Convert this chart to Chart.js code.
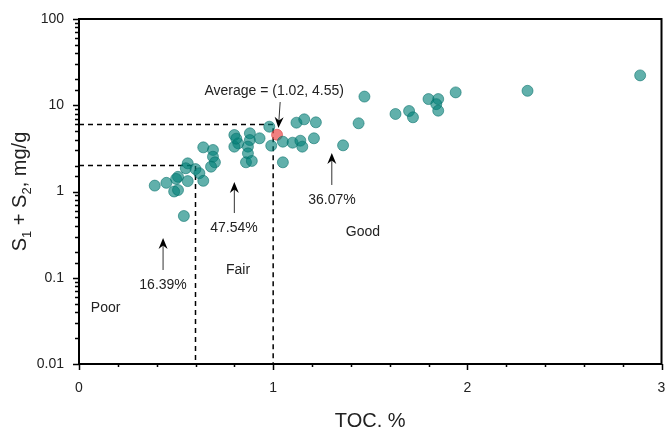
<!DOCTYPE html>
<html>
<head>
<meta charset="utf-8">
<script src="https://cdn.jsdelivr.net/npm/chart.js@4"></script>
<style>
  body { margin: 0; background: #fff; }
  canvas { display: block; }
</style>
</head>
<body>
<canvas id="myChart" width="668" height="430"></canvas>
<script>
// TOC (%) and S1 + S2 (mg/g) for each sample
const toc = [0.39, 0.45, 0.49, 0.51, 0.51, 0.50, 0.56, 0.55, 0.56, 0.60, 0.62, 0.64, 0.54, 0.64, 0.69, 0.69, 0.70, 0.68,
  0.80, 0.82, 0.80, 0.88, 0.88, 0.87, 0.87, 0.86, 0.89, 0.93, 0.98, 0.99, 1.05, 1.05, 1.12, 1.16, 1.22, 1.10, 1.14, 1.15,
  1.21, 1.36, 1.44, 1.47, 1.63, 1.70, 1.72, 1.80, 1.85, 1.84, 1.85, 1.94, 2.31, 2.89, 0.81];
const s1s2 = [1.17, 1.26, 1.00, 1.04, 1.48, 1.40, 2.12, 1.86, 1.32, 1.82, 1.63, 1.33, 0.52, 3.25, 3.03, 2.53, 2.18, 1.94,
  4.52, 3.62, 3.31, 4.73, 3.95, 3.31, 2.77, 2.18, 2.26, 4.14, 5.64, 3.40, 3.78, 2.18, 6.28, 6.87, 6.34, 3.68, 3.88, 3.31,
  4.14, 3.43, 6.18, 12.6, 7.92, 8.58, 7.25, 11.8, 11.8, 10.3, 8.65, 14.1, 14.7, 22.2, 4.10];

// average of all samples
const average = [1.02, 4.55];

// class limits: poor/fair and fair/good
const limitToc = [0.6, 1];
const limitS1s2 = [2, 6];

const xTickLabels = ['0', '1', '2', '3'];
const yTickValues = [0.01, 0.1, 1, 10, 100];
const yTickLabels = ['0.01', '0.1', '1', '10', '100'];

// class names and percentages, placed in data units
const classLabels = [
  { text: 'Poor', x: 0.137, y: 0.044 },
  { text: 'Fair', x: 0.819, y: 0.121 },
  { text: 'Good', x: 1.462, y: 0.339 },
  { text: '16.39%', x: 0.433, y: 0.0824 },
  { text: '47.54%', x: 0.798, y: 0.377 },
  { text: '36.07%', x: 1.303, y: 0.797 },
  { text: 'Average = (1.02, 4.55)', x: 1.005, y: 14.6 }
];
// arrows: from -> to
const arrows = [
  { x1: 0.433, y1: 0.123, x2: 0.433, y2: 0.289 },
  { x1: 0.800, y1: 0.563, x2: 0.800, y2: 1.29 },
  { x1: 1.302, y1: 1.19, x2: 1.302, y2: 2.79 },
  { x1: 1.036, y1: 10.9, x2: 1.027, y2: 5.45 }
];

const FONT = '"Liberation Sans", Arial, sans-serif';

const drawArrow = (ctx, x1, y1, x2, y2) => {
  const a = Math.atan2(y2 - y1, x2 - x1);
  const c = Math.cos(a), s = Math.sin(a);
  ctx.beginPath();
  ctx.moveTo(x1, y1);
  ctx.lineTo(x2 - 6 * c, y2 - 6 * s);
  ctx.stroke();
  ctx.beginPath();
  ctx.moveTo(x2, y2);
  ctx.lineTo(x2 - 11 * c + 4.5 * s, y2 - 11 * s - 4.5 * c);
  ctx.lineTo(x2 - 7.5 * c, y2 - 7.5 * s);
  ctx.lineTo(x2 - 11 * c - 4.5 * s, y2 - 11 * s + 4.5 * c);
  ctx.closePath();
  ctx.fill();
};

const isMajorY = v => yTickValues.findIndex(t => Math.abs(Math.log10(v) - Math.log10(t)) < 1e-6);

// drop the extra room chart.js keeps for the outer tick labels
const noEdgePadding = s => {
  s.paddingLeft = 0;
  s.paddingRight = 0;
  s.paddingTop = 0;
  s.paddingBottom = 0;
};

const extras = {
  id: 'extras',
  beforeDatasetsDraw(chart) {
    const { ctx, scales: { x, y } } = chart;
    ctx.save();
    ctx.strokeStyle = '#000';
    ctx.lineWidth = 1.5;
    ctx.setLineDash([5, 4]);
    for (let i = 0; i < limitToc.length; i++) {
      const px = x.getPixelForValue(limitToc[i]);
      const py = y.getPixelForValue(limitS1s2[i]);
      ctx.beginPath();
      ctx.moveTo(x.left, py);
      ctx.lineTo(px, py);
      ctx.lineTo(px, y.bottom);
      ctx.stroke();
    }
    ctx.restore();
  },
  afterDraw(chart) {
    const { ctx, chartArea: ca, scales: { x, y } } = chart;
    ctx.save();

    // frame
    ctx.strokeStyle = '#000';
    ctx.lineWidth = 2;
    ctx.strokeRect(ca.left, ca.top, ca.right - ca.left, ca.bottom - ca.top);

    // tick marks
    ctx.lineWidth = 1.5;
    ctx.beginPath();
    y.ticks.forEach(t => {
      const py = Math.round(y.getPixelForValue(t.value)) + 0.5;
      const len = isMajorY(t.value) >= 0 ? 6 : 4;
      ctx.moveTo(ca.left, py);
      ctx.lineTo(ca.left - len, py);
    });
    x.ticks.forEach(t => {
      const px = Math.round(x.getPixelForValue(t.value)) + 0.5;
      const len = t.label !== '' ? 6 : 3;
      ctx.moveTo(px, ca.bottom);
      ctx.lineTo(px, ca.bottom + len);
    });
    ctx.stroke();

    // annotations
    ctx.fillStyle = '#222';
    ctx.font = '14px ' + FONT;
    ctx.textAlign = 'center';
    ctx.textBaseline = 'middle';
    classLabels.forEach(l => {
      ctx.fillText(l.text, x.getPixelForValue(l.x), y.getPixelForValue(l.y));
    });
    ctx.strokeStyle = '#333';
    ctx.fillStyle = '#000';
    ctx.lineWidth = 1;
    arrows.forEach(a => {
      drawArrow(ctx, x.getPixelForValue(a.x1), y.getPixelForValue(a.y1),
        x.getPixelForValue(a.x2), y.getPixelForValue(a.y2));
    });

    // x axis title
    ctx.fillStyle = '#222';
    ctx.font = '20px ' + FONT;
    ctx.fillText('TOC. %', (ca.left + ca.right) / 2, 421);

    // y axis title with subscripts
    const parts = [['S', 20, 0], ['1', 13, 5], [' + S', 20, 0], ['2', 13, 5], [', mg/g', 20, 0]];
    let total = 0;
    parts.forEach(p => { ctx.font = p[1] + 'px ' + FONT; total += ctx.measureText(p[0]).width; });
    ctx.translate(26, (ca.top + ca.bottom) / 2);
    ctx.rotate(-Math.PI / 2);
    ctx.textAlign = 'left';
    ctx.textBaseline = 'alphabetic';
    let cx = -total / 2;
    parts.forEach(p => {
      ctx.font = p[1] + 'px ' + FONT;
      ctx.fillText(p[0], cx, p[2]);
      cx += ctx.measureText(p[0]).width;
    });
    ctx.restore();
  }
};

new Chart('myChart', {
  type: 'scatter',
  data: {
    datasets: [{
      data: toc.map((v, i) => ({ x: v, y: s1s2[i] })),
      backgroundColor: 'rgba(0, 128, 120, 0.62)',
      borderColor: 'rgba(0, 110, 104, 0.55)',
      borderWidth: 1,
      pointRadius: 5.5
    }, {
      data: [{ x: average[0], y: average[1] }],
      backgroundColor: 'rgba(233, 74, 74, 0.7)',
      borderColor: 'rgba(215, 70, 70, 0.6)',
      borderWidth: 1,
      pointRadius: 5.5
    }]
  },
  options: {
    responsive: false,
    animation: false,
    layout: { padding: { top: 19, right: 4, left: 0, bottom: 0 } },
    plugins: { legend: { display: false }, tooltip: { enabled: false } },
    scales: {
      x: {
        type: 'linear',
        min: 0,
        max: 3,
        afterFit(s) { s.height = 66; noEdgePadding(s); },
        grid: { display: false, drawTicks: false },
        border: { display: false },
        ticks: {
          stepSize: 0.2,
          autoSkip: false,
          maxRotation: 0,
          padding: 16,
          color: '#222',
          font: { family: FONT, size: 14 },
          callback: v => {
            const k = Math.round(v);
            return Math.abs(v - k) < 1e-6 ? xTickLabels[k] : '';
          }
        }
      },
      y: {
        type: 'logarithmic',
        min: 0.01,
        max: 100,
        afterFit(s) { s.width = 79; noEdgePadding(s); },
        grid: { display: false, drawTicks: false },
        border: { display: false },
        ticks: {
          autoSkip: false,
          padding: 15,
          color: '#222',
          font: { family: FONT, size: 14 },
          callback: v => {
            const i = isMajorY(v);
            return i >= 0 ? yTickLabels[i] : '';
          }
        }
      }
    }
  },
  plugins: [extras]
});
</script>
</body>
</html>
